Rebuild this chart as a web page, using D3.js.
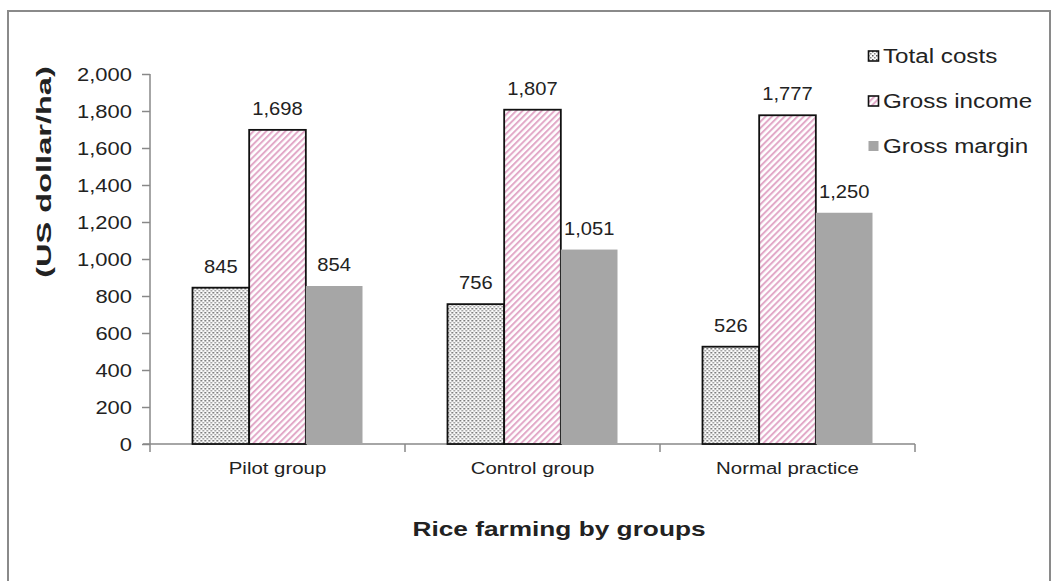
<!DOCTYPE html>
<html>
<head>
<meta charset="utf-8">
<script src="https://cdn.jsdelivr.net/npm/d3@7"></script>
<style>
  html, body { margin: 0; padding: 0; background: #fff; }
  svg { display: block; }
  text { font-family: "Liberation Sans", Arial, sans-serif; fill: #222; }
</style>
</head>
<body>
<svg id="chart" width="1052" height="581"></svg>
<script>
// Rice farming economics by group (US dollar/ha)
const groups = ["Pilot group", "Control group", "Normal practice"];
const seriesNames = ["Total costs", "Gross income", "Gross margin"];
const totalCosts = [845, 756, 526];
const grossIncome = [1698, 1807, 1777];
const grossMargin = [854, 1051, 1250];
const yTicks = [0, 200, 400, 600, 800, 1000, 1200, 1400, 1600, 1800, 2000];

const seriesValues = [totalCosts, grossIncome, grossMargin];
const FONT = "'Liberation Sans', Arial, sans-serif";

// Widen text horizontally about its own anchor point
function widen(sel, sx) {
  sel.each(function () {
    const t = d3.select(this);
    const x = +t.attr("x") || 0, y = +t.attr("y") || 0;
    t.attr("x", 0).attr("y", 0)
      .attr("transform", `translate(${x},${y}) scale(${sx},1)`);
  });
}

const svg = d3.select("#chart");
const defs = svg.append("defs");

// Stipple fill for total costs
const dots = defs.append("pattern")
  .attr("id", "dots").attr("patternUnits", "userSpaceOnUse")
  .attr("width", 4).attr("height", 4);
dots.append("rect").attr("width", 4).attr("height", 4).attr("fill", "#fafafa");
dots.append("rect").attr("x", 0).attr("y", 0).attr("width", 1.5).attr("height", 1.5).attr("fill", "#555");
dots.append("rect").attr("x", 2).attr("y", 2).attr("width", 1.5).attr("height", 1.5).attr("fill", "#888");

// Pink diagonal hatch for gross income
const hatch = defs.append("pattern")
  .attr("id", "hatch").attr("patternUnits", "userSpaceOnUse")
  .attr("width", 4.5).attr("height", 4.5)
  .attr("patternTransform", "rotate(45)");
hatch.append("rect").attr("width", 4.5).attr("height", 4.5).attr("fill", "#fff");
hatch.append("rect").attr("x", 0).attr("y", 0).attr("width", 2).attr("height", 4.5).attr("fill", "#e2a9c8");

const fills = ["url(#dots)", "url(#hatch)", "#a6a6a6"];
const strokes = ["#111", "#111", "none"];

// Chart frame
svg.append("rect")
  .attr("x", 8).attr("y", 11).attr("width", 1042).attr("height", 620)
  .attr("fill", "none").attr("stroke", "#8a8a8a").attr("stroke-width", 2);

const x0 = d3.scaleBand().domain(groups).range([150, 915])
  .paddingInner(1 / 3).paddingOuter(1 / 6);
const x1 = d3.scaleBand().domain(seriesNames).range([0, x0.bandwidth()]);
const y = d3.scaleLinear().domain([0, 2000]).range([444, 74]);

// Y axis
const yAxis = svg.append("g").attr("transform", "translate(150,0)")
  .call(d3.axisLeft(y).tickValues(yTicks).tickSize(8).tickPadding(10)
    .tickFormat(d3.format(",")));
yAxis.select(".domain").attr("stroke", "#888").attr("stroke-width", 1.5)
  .attr("d", `M0,${y(2000)}V${y(0) + 8}`);
yAxis.selectAll(".tick line").attr("stroke", "#888").attr("stroke-width", 1.5);
yAxis.selectAll(".tick text")
  .style("font-family", FONT).style("font-size", "18px").attr("fill", "#333")
  .attr("dy", "0.36em")
  .call(widen, 1.22);

// X axis
const xAxis = svg.append("g").attr("transform", `translate(0,${y(0)})`)
  .call(d3.axisBottom(x0).tickSize(0).tickPadding(18));
xAxis.select(".domain").attr("stroke", "#888").attr("stroke-width", 1.5)
  .attr("d", `M143,0H915`);
xAxis.selectAll(".tick text")
  .style("font-family", FONT).style("font-size", "17px").attr("fill", "#333")
  .attr("dy", "0.71em")
  .call(widen, 1.2);
// Tick marks at category boundaries
const bounds = groups.slice(1).map(g => x0(g) - x0.step() * x0.paddingInner() / 2).concat([915]);
xAxis.selectAll(".bound").data(bounds).join("line")
  .attr("class", "bound")
  .attr("x1", d => d).attr("x2", d => d).attr("y1", 0).attr("y2", 8)
  .attr("stroke", "#888").attr("stroke-width", 1.5);

// Bars
const rows = groups.map((g, gi) => seriesNames.map((s, si) => ({
  group: g, series: s, si, value: seriesValues[si][gi]
})));
const barG = svg.append("g").selectAll("g").data(rows).join("g")
  .attr("transform", d => `translate(${x0(d[0].group)},0)`);
barG.selectAll("rect").data(d => d).join("rect")
  .attr("x", d => x1(d.series))
  .attr("y", d => y(d.value))
  .attr("width", x1.bandwidth())
  .attr("height", d => y(0) - y(d.value))
  .attr("fill", d => fills[d.si])
  .attr("stroke", d => strokes[d.si])
  .attr("stroke-width", 1.8);

// Value labels
barG.selectAll("text.val").data(d => d).join("text")
  .attr("class", "val")
  .attr("x", d => x1(d.series) + x1.bandwidth() / 2)
  .attr("y", d => y(d.value) - 15)
  .attr("text-anchor", "middle")
  .style("font-size", "18px").attr("fill", "#333")
  .text(d => d3.format(",")(d.value))
  .call(widen, 1.12);

// Axis titles
svg.append("text")
  .attr("transform", "translate(51,172) rotate(-90) scale(1.55,1)")
  .attr("text-anchor", "middle")
  .style("font-size", "21px").style("font-weight", "bold").attr("fill", "#111")
  .text("(US dollar/ha)");
svg.append("text")
  .attr("x", 559).attr("y", 536)
  .attr("text-anchor", "middle")
  .style("font-size", "21px").style("font-weight", "bold").attr("fill", "#111")
  .text("Rice farming by groups")
  .call(widen, 1.25);

// Legend
const legend = svg.append("g").selectAll("g").data(seriesNames).join("g")
  .attr("transform", (d, i) => `translate(868,${63 + i * 45})`);
legend.append("rect")
  .attr("x", 0.5).attr("y", -12).attr("width", 10).attr("height", 10)
  .attr("fill", (d, i) => fills[i])
  .attr("stroke", (d, i) => strokes[i]).attr("stroke-width", 1.6);
legend.append("text")
  .attr("x", 15).attr("y", 0)
  .style("font-size", "20px").attr("fill", "#333")
  .text(d => d)
  .call(widen, 1.21);
</script>
</body>
</html>
